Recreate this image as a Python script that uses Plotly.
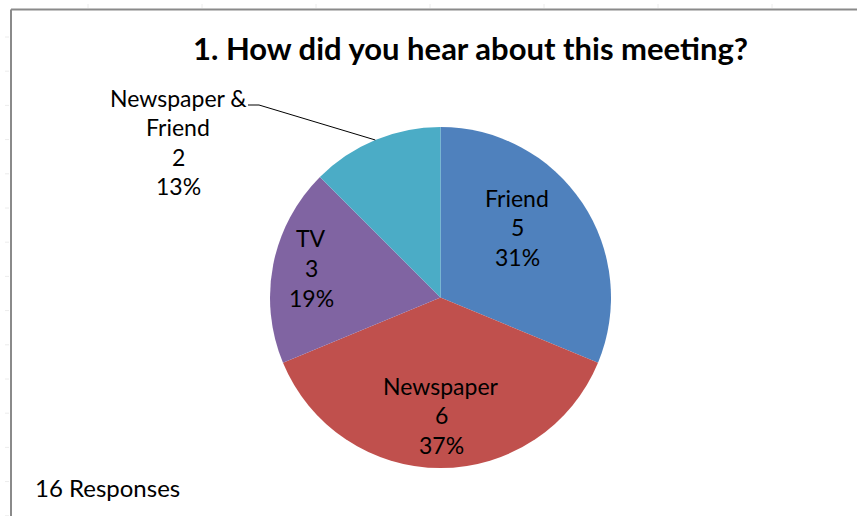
import math
import plotly.graph_objects as go

# Survey answers: "How did you hear about this meeting?"
categories = ["Friend", "Newspaper", "TV", "Newspaper &<br>Friend"]
responses = [5, 6, 3, 2]
percent_labels = ["31%", "37%", "19%", "13%"]
colors = ["#4F81BD", "#C0504D", "#8064A2", "#4BACC6"]

W, H = 857, 516
FONT = "Lato"

# Pie geometry (pixels)
cx, cy, r = 440.5, 297.5, 170.5


def px(x):
    return x / W


def py(y):
    return 1 - y / H


fig = go.Figure(
    go.Pie(
        labels=categories,
        values=responses,
        sort=False,
        direction="clockwise",
        rotation=0,
        marker=dict(colors=colors, line=dict(width=0)),
        textinfo="none",
        hoverinfo="label+value+percent",
        showlegend=False,
        domain=dict(x=[px(cx - r), px(cx + r)], y=[py(cy + r), py(cy - r)]),
    )
)

annotations = []
LINE_GAP = 29.5

# Centre of each label block (middle line), in pixels
label_centers = [(517, 227), (441, 415), (311, 268), (178, 142)]

for i, (name, val, pct) in enumerate(zip(categories, responses, percent_labels)):
    lines = name.split("<br>") + [str(val), pct]
    lx, ly = label_centers[i]
    n = len(lines)
    for k, t in enumerate(lines):
        yk = ly + (k - (n - 1) / 2) * LINE_GAP
        annotations.append(dict(
            x=px(lx), y=py(yk), xref="paper", yref="paper",
            text=t, showarrow=False, xanchor="center", yanchor="middle",
            font=dict(family=FONT, size=23, color="#000000"),
        ))

# Leader line from the small slice's rim (at its mid-angle) to the outside label
total = sum(responses)
start = sum(responses[:3]) / total * 360
mid = math.radians(start + responses[3] / total * 360 / 2)
tip_x = cx + r * math.sin(mid)
tip_y = cy - r * math.cos(mid)
elbow = (259, 105)
shapes = [
    dict(type="line", xref="paper", yref="paper",
         x0=px(248), y0=py(105), x1=px(elbow[0]), y1=py(elbow[1]),
         line=dict(color="#000000", width=1)),
    dict(type="line", xref="paper", yref="paper",
         x0=px(elbow[0]), y0=py(elbow[1]), x1=px(tip_x), y1=py(tip_y),
         line=dict(color="#000000", width=1)),
]

# Chart frame
shapes.append(dict(type="line", xref="paper", yref="paper",
                   x0=px(11), y0=py(9.5), x1=1.02, y1=py(9.5),
                   line=dict(color="#8a8a8a", width=2)))
shapes.append(dict(type="line", xref="paper", yref="paper",
                   x0=px(11), y0=py(9.5), x1=px(11), y1=-0.02,
                   line=dict(color="#8a8a8a", width=2)))

# Faint sheet gridline stubs around the frame
for k in range(15):
    yy = 37 + 34.2 * k
    shapes.append(dict(type="line", xref="paper", yref="paper",
                       x0=px(5), y0=py(yy), x1=px(9), y1=py(yy),
                       line=dict(color="#ececec", width=1)))
for k in range(8):
    xx = 88 + 114 * k
    shapes.append(dict(type="line", xref="paper", yref="paper",
                       x0=px(xx), y0=py(4), x1=px(xx), y1=py(8),
                       line=dict(color="#ececec", width=1)))

annotations.append(dict(
    x=px(471), y=py(48), xref="paper", yref="paper",
    text="<b>1. How did you hear about this meeting?</b>", showarrow=False,
    xanchor="center", yanchor="middle",
    font=dict(family=FONT, size=31, color="#000000"),
))
annotations.append(dict(
    x=px(33), y=py(487), xref="paper", yref="paper",
    text="16 Responses", showarrow=False, xanchor="left", yanchor="middle",
    font=dict(family=FONT, size=24, color="#000000"),
))

fig.update_layout(
    width=W, height=H,
    margin=dict(l=0, r=0, t=0, b=0),
    paper_bgcolor="#ffffff",
    plot_bgcolor="#ffffff",
    annotations=annotations,
    shapes=shapes,
)

fig.write_html("out.html")
